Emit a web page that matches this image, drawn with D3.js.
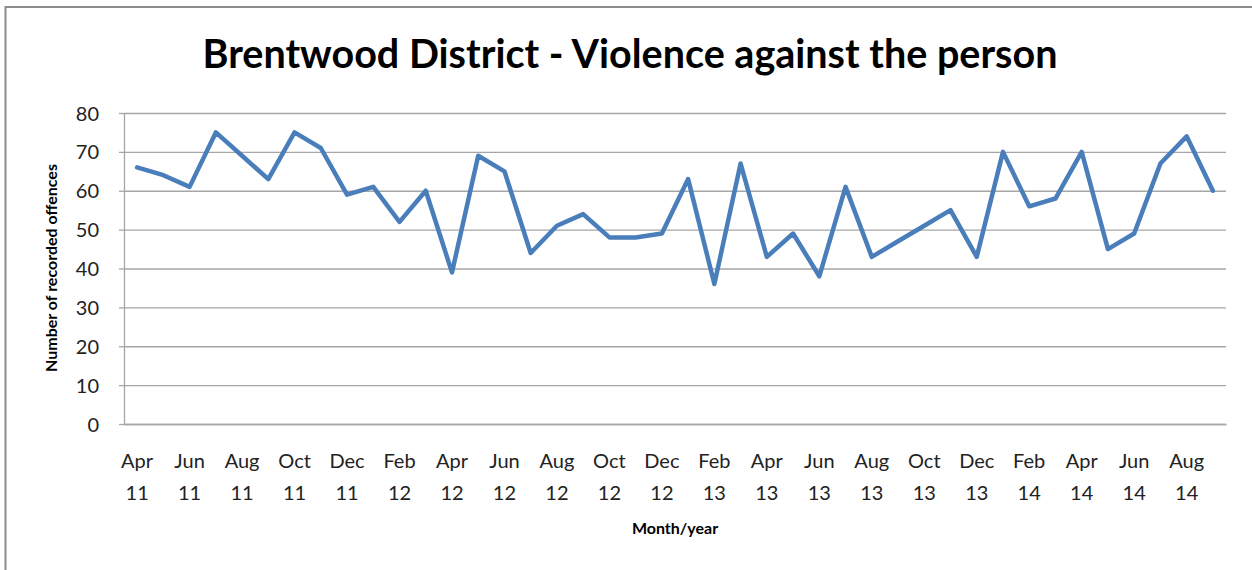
<!DOCTYPE html>
<html>
<head>
<meta charset="utf-8">
<script src="https://cdn.jsdelivr.net/npm/d3@7"></script>
<style>
  body { margin: 0; background: #fff; }
  svg { display: block; font-family: Lato, "Open Sans", sans-serif; }
  .grid line { stroke: #a6a6a6; stroke-width: 1.3; }
  .grid path { display: none; }
  .axis--y path, .axis--y line { stroke: #a6a6a6; stroke-width: 1.3; }
  .axis text { fill: #222; font-size: 20px; font-family: Lato, "Open Sans", sans-serif; }
</style>
</head>
<body>
<div id="graph"></div>
<script>
// monthly recorded offences, Apr 2011 - Sep 2014
var months = ["Apr 11", "May 11", "Jun 11", "Jul 11", "Aug 11", "Sep 11", "Oct 11", "Nov 11", "Dec 11", "Jan 12", "Feb 12", "Mar 12",
              "Apr 12", "May 12", "Jun 12", "Jul 12", "Aug 12", "Sep 12", "Oct 12", "Nov 12", "Dec 12", "Jan 13", "Feb 13", "Mar 13",
              "Apr 13", "May 13", "Jun 13", "Jul 13", "Aug 13", "Sep 13", "Oct 13", "Nov 13", "Dec 13", "Jan 14", "Feb 14", "Mar 14",
              "Apr 14", "May 14", "Jun 14", "Jul 14", "Aug 14", "Sep 14"];
var offences = [66, 64, 61, 75, 69, 63, 75, 71, 59, 61, 52, 60,
                39, 69, 65, 44, 51, 54, 48, 48, 49, 63, 36, 67,
                43, 49, 38, 61, 43, 47, 51, 55, 43, 70, 56, 58,
                70, 45, 49, 67, 74, 60];
var yTicks = [0, 10, 20, 30, 40, 50, 60, 70, 80];

var width = 1252, height = 570;
var plotLeft = 124, plotRight = 1226, plotTop = 113, plotBottom = 424;

var svg = d3.select("#graph")
    .append("svg")
    .attr("width", width)
    .attr("height", height);

// outer chart border
svg.append("rect")
    .attr("x", 5.5).attr("y", 7)
    .attr("width", 1260).attr("height", 600)
    .attr("fill", "none")
    .attr("stroke", "#8c8c8c")
    .attr("stroke-width", 2);

var xScale = d3.scaleBand().domain(months).range([plotLeft, plotRight]).padding(0);
var yScale = d3.scaleLinear().domain([0, 80]).range([plotBottom, plotTop]);

// horizontal gridlines
svg.append("g")
    .attr("class", "grid")
    .attr("transform", "translate(" + plotLeft + ",0)")
    .call(d3.axisRight(yScale).tickValues(yTicks).tickSize(plotRight - plotLeft).tickFormat(""));

// y axis
var yAxis = svg.append("g")
    .attr("class", "axis axis--y")
    .attr("transform", "translate(" + plotLeft + ",0)")
    .call(d3.axisLeft(yScale).tickValues(yTicks).tickSize(5).tickSizeOuter(0).tickPadding(20));
yAxis.selectAll("text").attr("dy", "0.35em");

// x axis labels, every second month, two lines
var xAxis = svg.append("g")
    .attr("class", "axis axis--x")
    .attr("transform", "translate(0," + plotBottom + ")")
    .call(d3.axisBottom(xScale)
        .tickValues(months.filter(function(d, i) { return i % 2 === 0; }))
        .tickSize(0));
xAxis.select(".domain").attr("stroke", "#a6a6a6").attr("stroke-width", 1.3);
xAxis.selectAll("text").each(function(d) {
    var t = d3.select(this).text("").attr("y", 0).attr("dy", null);
    var parts = d.split(" ");
    t.append("tspan").attr("x", 0).attr("y", 44).text(parts[0]);
    t.append("tspan").attr("x", 0).attr("y", 76).text(parts[1]);
});

// series line
var line = d3.line()
    .x(function(d, i) { return xScale(months[i]) + xScale.bandwidth() / 2; })
    .y(function(d) { return yScale(d); });

svg.append("path")
    .datum(offences)
    .attr("fill", "none")
    .attr("stroke", "#4a7ebb")
    .attr("stroke-width", 4.5)
    .attr("stroke-linejoin", "round")
    .attr("stroke-linecap", "round")
    .attr("d", line);

// titles
svg.append("text")
    .attr("x", 630).attr("y", 68)
    .attr("text-anchor", "middle")
    .style("font-size", "39.5px")
    .style("font-weight", "bold")
    .attr("fill", "#000")
    .text("Brentwood District - Violence against the person");

svg.append("text")
    .attr("x", 675).attr("y", 534)
    .attr("text-anchor", "middle")
    .style("font-size", "16px")
    .style("font-weight", "bold")
    .attr("fill", "#000")
    .text("Month/year");

svg.append("text")
    .attr("transform", "translate(57," + 268 + ") rotate(-90)")
    .attr("text-anchor", "middle")
    .style("font-size", "16px")
    .style("font-weight", "bold")
    .attr("fill", "#000")
    .text("Number of recorded offences");
</script>
</body>
</html>
